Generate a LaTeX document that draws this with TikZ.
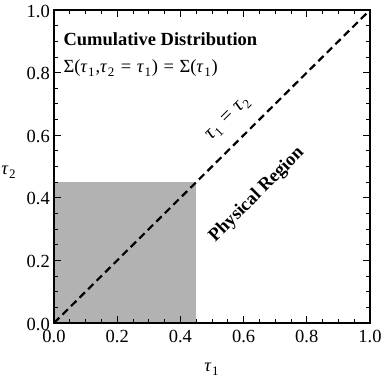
\documentclass[tikz,border=0pt]{standalone}
\usepackage{fontspec}
\setmainfont{Liberation Serif}
\usetikzlibrary{positioning}
\definecolor{boxgray}{gray}{0.7}
\newcommand{\tauidx}[1]{\textit{τ}\kern0.6pt\raisebox{-4pt}{\fontsize{13}{13}\selectfont #1}\kern0.8pt}
\newcommand{\eqsign}{\hspace{0.3em}=\hspace{0.3em}}

\begin{document}
\begin{tikzpicture}[x=316pt,y=313pt,font=\fontsize{18.5}{21}\selectfont,
  ticklab/.style={inner sep=0pt},
  minortick/.style={line width=0.8pt},
  majortick/.style={line width=0.9pt}]
  \useasboundingbox (-54pt,-54pt) rectangle (328pt,323pt);
  \fill[boxgray] (0,0) rectangle (0.45,0.45);
  \draw[line width=2.2pt,dash pattern=on 7.5pt off 4.5pt] (0,0) -- (1,1);

  % ticks on all four sides, pointing inward
  \foreach \k in {1,...,19} {
    \pgfmathsetmacro\t{\k/20}
    \draw[minortick] (\t,0) -- ++(0,4pt);
    \draw[minortick] (\t,1) -- ++(0,-4pt);
    \draw[minortick] (0,\t) -- ++(4pt,0);
    \draw[minortick] (1,\t) -- ++(-4pt,0);
  }
  \foreach \t in {0.2,0.4,0.6,0.8} {
    \draw[majortick] (\t,0) -- ++(0,7pt);
    \draw[majortick] (\t,1) -- ++(0,-7pt);
    \draw[majortick] (0,\t) -- ++(7pt,0);
    \draw[majortick] (1,\t) -- ++(-7pt,0);
  }
  \draw[line width=1.3pt] (0,0) rectangle (1,1);

  \foreach \v [count=\i] in {0.0,0.2,0.4,0.6,0.8,1.0} {
    \node[ticklab,anchor=north] (xt\i) at (\v,-7pt) {\v};
    \node[ticklab,anchor=east] (yt\i) at ([yshift=-1pt]-4pt,\v) {\v};
  }
  \node (xlab) at (0.5,-46pt) {\tauidx{1}};
  \node (ylab) at (-45pt,0.482) {\tauidx{2}};

  \node[anchor=base west] (title) at (6pt,277pt) {\textbf{Cumulative Distribution}};
  \node[anchor=base west] (sigmaeq) at (6pt,250pt)
    {Σ(\tauidx{1},\tauidx{2}\eqsign\tauidx{1})\eqsign Σ(\tauidx{1})};

  \node[rotate=45,font=\fontsize{20.5}{22}\selectfont] (diaglab) at (0.553,0.652) {\tauidx{1}\eqsign\tauidx{2}};
  \node[rotate=45,font=\fontsize{18.5}{21}\selectfont\bfseries] (physlab) at (0.642,0.409) {Physical Region};
\end{tikzpicture}
\end{document}
